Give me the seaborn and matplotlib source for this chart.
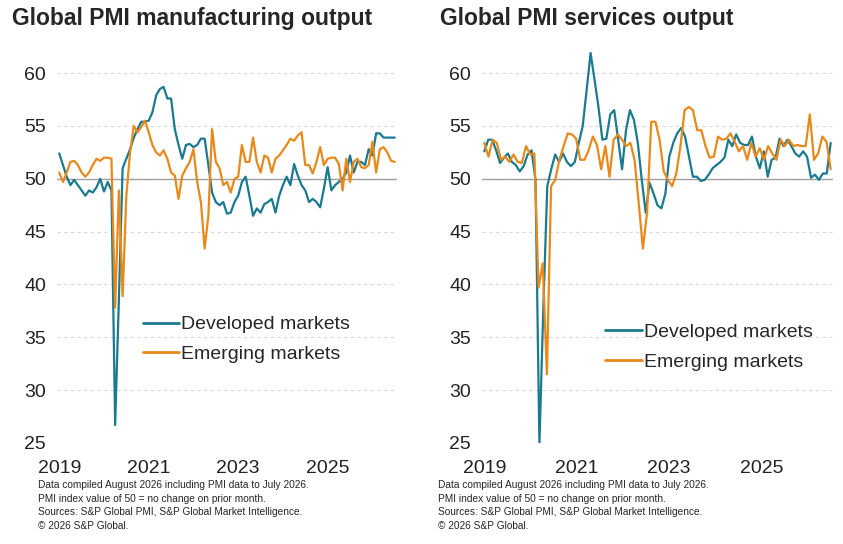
import numpy as np
import pandas as pd
import matplotlib
matplotlib.use("Agg")
import matplotlib.pyplot as plt
from matplotlib.lines import Line2D
import seaborn as sns

mfg_dev = [52.4,51.3,50.2,49.4,49.9,49.4,48.9,48.4,48.9,48.7,49.2,50.0,48.8,49.7,48.9,26.7,38.6,51.0,51.9,52.8,
           53.9,54.7,55.4,55.4,55.5,56.3,57.9,58.5,58.7,57.6,57.6,54.7,53.2,51.9,53.2,53.3,53.0,53.2,53.8,53.8,
           51.3,48.7,47.8,47.5,47.8,46.7,46.8,47.8,48.4,49.7,50.2,48.4,46.5,47.2,46.8,47.6,47.8,48.1,46.8,48.4,
           49.4,50.2,49.4,51.4,50.3,49.4,48.9,47.8,48.1,47.8,47.3,49.1,51.1,48.9,49.4,49.7,50.0,50.6,52.2,50.6,
           51.6,51.6,51.3,52.8,52.2,54.3,54.3,53.9,53.9,53.9,53.9]
mfg_em = [50.6,49.7,50.6,51.6,51.7,51.3,50.6,50.2,50.6,51.3,51.9,51.7,52.0,52.0,51.9,37.8,48.9,38.9,48.4,52.5,
          55.0,54.4,54.9,55.5,54.4,53.2,52.5,52.2,52.7,51.9,50.6,50.3,48.1,50.3,51.0,51.6,52.8,49.7,47.8,43.4,
          46.5,54.7,51.6,51.0,49.4,49.7,48.7,50.0,50.2,53.2,51.6,51.6,53.9,51.6,50.6,52.2,52.0,50.6,51.9,52.2,
          52.7,53.2,53.8,53.6,54.1,54.4,51.3,51.3,50.5,51.6,53.0,51.3,51.9,52.0,52.0,51.4,48.9,51.9,49.7,51.6,
          51.9,51.1,51.0,51.3,53.5,50.6,52.8,53.0,52.5,51.7,51.6]
svc_dev = [52.6,53.7,53.7,52.7,51.5,52.0,52.4,51.6,51.3,50.7,51.2,52.3,52.7,49.9,24.9,37.9,49.3,50.9,52.3,51.6,
           52.4,51.6,51.2,51.6,53.4,55.0,58.4,61.9,59.4,56.8,53.7,53.8,56.1,56.5,53.7,50.9,54.6,56.5,55.6,53.4,
           49.9,46.8,49.6,48.6,47.5,47.2,48.6,52.1,53.4,54.3,54.8,54.0,52.1,50.2,50.2,49.8,49.9,50.4,51.0,51.3,
           51.6,52.0,53.7,53.1,54.2,53.4,53.2,53.2,54.0,52.1,51.0,52.6,50.2,51.8,52.0,53.8,53.1,53.7,53.1,52.4,
           52.1,52.6,52.1,50.1,50.4,49.9,50.5,50.5,53.4]
svc_em = [53.4,52.1,53.7,53.4,51.8,52.1,51.6,52.3,51.6,51.5,53.1,52.3,52.4,39.7,42.0,31.5,49.3,49.9,51.8,53.1,
          54.3,54.2,53.8,51.8,51.8,52.7,54.0,53.2,50.9,53.1,50.2,53.7,54.2,53.7,53.1,53.4,51.8,47.7,43.4,46.8,
          55.4,55.4,53.7,50.7,49.9,49.3,50.5,53.1,56.5,56.8,56.5,54.6,54.6,53.1,52.0,52.1,54.0,53.7,53.8,54.3,
          53.5,52.6,53.1,51.8,53.4,52.1,52.9,51.8,53.1,52.4,51.8,53.7,53.1,53.7,53.1,53.2,53.1,53.1,56.1,51.8,
          52.4,54.0,53.5,50.9]

titles = ["Global PMI manufacturing output", "Global PMI services output"]
series_names = ["Developed markets", "Emerging markets"]
years = [2019, 2021, 2023, 2025]
colors = ["#1a7a8f", "#e8891a"]
start, end = 2019.0, 2026.5

def frame(dev, em):
    rows = []
    for name, vals in zip(series_names, [dev, em]):
        x = np.linspace(start, end, len(vals))
        rows.append(pd.DataFrame({"date": x, "value": vals, "series": name}))
    return pd.concat(rows)

sns.set_theme(style="white")
plt.rcParams['font.family'] = ['Liberation Sans', 'DejaVu Sans']
fig = plt.figure(figsize=(8.43, 5.44), dpi=100)
W, H = 843, 544
boxes = [(57, 397), (482, 833)]
title_x = [12, 440]
foot_x = [38, 438]
foot = ("Data compiled August 2026 including PMI data to July 2026.\n"
        "PMI index value of 50 = no change on prior month.\n"
        "Sources: S&P Global PMI, S&P Global Market Intelligence.\n"
        "\u00a9 2026 S&P Global.")
leg_pos = [(0.2, 0.37), (0.3, 0.35)]
for i, (data, title) in enumerate(zip([(mfg_dev, mfg_em), (svc_dev, svc_em)], titles)):
    x0, x1 = boxes[i]
    top_px, bot_px = 52, 443
    ax = fig.add_axes([x0 / W, 1 - bot_px / H, (x1 - x0) / W, (bot_px - top_px) / H])
    df = frame(*data)
    sns.lineplot(data=df, x="date", y="value", hue="series", palette=colors, ax=ax,
                 linewidth=1.6, legend=False)
    ax.set_ylim(25, 62)
    ax.set_xlim(start - 0.05, end + 0.05)
    ax.set_yticks([25, 30, 35, 40, 45, 50, 55, 60])
    ax.set_xticks(years)
    ax.set_xticklabels([str(y) for y in years])
    ax.tick_params(labelsize=14, length=0, colors="#222222")
    ax.tick_params(axis="x", pad=12)
    ax.tick_params(axis="y", pad=8)
    ax.yaxis.grid(True, linestyle=(0, (3, 3)), color="#d8d8d8", linewidth=0.8)
    ax.axhline(50, color="#a0a0a0", linewidth=1.0, zorder=1)
    for s in ax.spines.values():
        s.set_visible(False)
    ax.set_xlabel("")
    ax.set_ylabel("")
    handles = [Line2D([0], [0], color=c, lw=2) for c in colors]
    ax.legend(handles, series_names, loc="upper left", bbox_to_anchor=leg_pos[i], frameon=False,
              fontsize=14, handlelength=1.9, handletextpad=0.1, labelspacing=0.6)
    fig.text(title_x[i] / W, 1 - 18 / H, title, fontsize=16.5, fontweight="bold", va="center", ha="left")
    fig.text(foot_x[i] / W, 1 - 480 / H, foot, fontsize=7.3, va="top", ha="left", linespacing=1.45)

fig.savefig("out.png", dpi=100)
